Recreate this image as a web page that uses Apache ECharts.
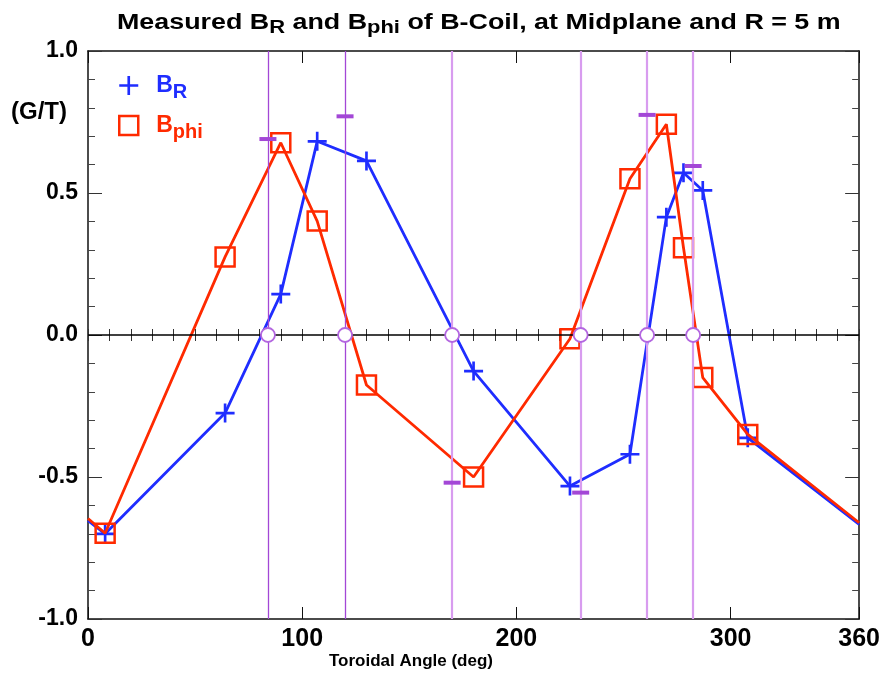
<!DOCTYPE html>
<html>
<head>
<meta charset="utf-8">
<script src="https://cdn.jsdelivr.net/npm/echarts@6/dist/echarts.min.js"></script>
<style>
  html, body { margin: 0; padding: 0; background: #fff; }
  #chart { width: 883px; height: 675px; }
</style>
</head>
<body>
<div id="chart"></div>
<script>
// measured points (toroidal angle in deg)
const angles = [8, 64, 90, 107, 130, 180, 225, 253, 270, 278, 287, 308];
const bR = [-0.70, -0.275, 0.144, 0.682, 0.613, -0.127, -0.532, -0.42, 0.415, 0.571, 0.509, -0.362];
const bPhi = [-0.698, 0.275, 0.677, 0.401, -0.176, -0.50, -0.013, 0.55, 0.742, 0.307, -0.15, -0.35];
// line ends at the plot edges (0 and 360 deg)
const edgeAngles = [0, 360];
const bREdge = [-0.654, -0.667];
const bPhiEdge = [-0.646, -0.661];
// coil crossing angles and the short purple marks
const crossAngles = [84, 120, 170, 230, 261, 282.5];
const markValues = [0.69, 0.77, -0.52, -0.555, 0.775, 0.595];
const xTicks = [0, 100, 200, 300, 360];

const blue = '#1f2dff';
const red = '#ff2a00';
const purple = '#a347d6';
const lavender = '#d89cef';
const font = "'Liberation Sans', Arial, sans-serif";
const plus = 'path://M8,0h2.6v8h8v2.6h-8v8h-2.6v-8h-8v-2.6h8z';

function withEdges(vals, edges) {
  const pts = angles.map((a, i) => [a, vals[i]]);
  pts.unshift({ value: [edgeAngles[0], edges[0]], symbol: 'none' });
  pts.push({ value: [edgeAngles[1], edges[1]], symbol: 'none' });
  return pts;
}

const chart = echarts.init(document.getElementById('chart'));

const baseX = {
  type: 'value', min: 0, max: 360, gridIndex: 0,
  splitLine: { show: false },
  axisLine: { show: true, onZero: false, lineStyle: { color: '#111', width: 1.5 } }
};
const baseY = {
  type: 'value', min: -1, max: 1, interval: 0.5,
  splitLine: { show: false },
  axisLine: { show: true, onZero: false, lineStyle: { color: '#111', width: 1.5 } },
  axisTick: { inside: true, length: 14, lineStyle: { color: '#333' } },
  minorTick: { show: true, splitNumber: 5, length: 7, lineStyle: { color: '#444' } }
};

const option = {
  animation: false,
  backgroundColor: '#fff',
  textStyle: { fontFamily: font },
  legend: {
    orient: 'vertical', left: 113, top: 69, itemGap: 12,
    itemWidth: 19, itemHeight: 19,
    selectedMode: false,
    data: [
      { name: 'BR', icon: plus, itemStyle: { color: blue, borderWidth: 0 } },
      { name: 'Bphi', icon: 'rect', itemStyle: { color: 'rgba(0,0,0,0)', borderColor: red, borderWidth: 2.5 } }
    ],
    formatter: name => name === 'BR' ? '{b1|B}{s1|R}' : '{b2|B}{s2|phi}',
    textStyle: {
      rich: {
        b1: { fontFamily: font, fontWeight: 'bold', fontSize: 23, color: blue, padding: [0, 0, 0, 13] },
        s1: { fontFamily: font, fontWeight: 'bold', fontSize: 20, color: blue, padding: [13, 0, 0, 0] },
        b2: { fontFamily: font, fontWeight: 'bold', fontSize: 23, color: red, padding: [0, 0, 0, 13] },
        s2: { fontFamily: font, fontWeight: 'bold', fontSize: 20, color: red, padding: [13, 0, 0, 0] }
      }
    }
  },
  grid: { left: 88, right: 23, top: 51, bottom: 56, containLabel: false },
  xAxis: [
    Object.assign({}, baseX, {
      position: 'bottom', interval: 100,
      axisTick: { inside: true, length: 12, lineStyle: { color: '#111' } },
      axisLabel: {
        margin: 8, color: '#000', fontFamily: font, fontWeight: 'bold', fontSize: 25,
        showMaxLabel: true,
        formatter: v => xTicks.includes(v) ? String(v) : ''
      }
    }),
    Object.assign({}, baseX, {
      position: 'bottom', interval: 10,
      axisLine: { show: false },
      axisTick: { inside: true, length: 6, lineStyle: { color: '#333' } },
      axisLabel: { show: false }
    }),
    Object.assign({}, baseX, {
      position: 'top', interval: 100,
      axisTick: { inside: true, length: 12, lineStyle: { color: '#111' } },
      axisLabel: { show: false }
    }),
    Object.assign({}, baseX, {
      position: 'top', interval: 10,
      axisLine: { show: false },
      axisTick: { inside: true, length: 6, lineStyle: { color: '#333' } },
      axisLabel: { show: false }
    })
  ],
  yAxis: [
    Object.assign({}, baseY, {
      position: 'left',
      axisLabel: {
        margin: 10, color: '#000', fontFamily: font, fontWeight: 'bold', fontSize: 23,
        formatter: v => v.toFixed(1)
      }
    }),
    Object.assign({}, baseY, {
      position: 'right',
      axisLabel: { show: false }
    })
  ],
  graphic: [
    {
      type: 'text', x: 117, y: 8, scaleX: 1.22,
      style: {
        text: 'Measured B{s|R} and B{s|phi} of B-Coil, at Midplane and R = 5 m',
        font: 'bold 22px ' + font, fill: '#000',
        rich: {
          s: { font: 'bold 18px ' + font, fill: '#000', padding: [11, 0, 0, 0] }
        }
      }
    },
    {
      type: 'text', left: 11, top: 100,
      style: { text: '(G/T)', font: 'bold 24px ' + font, fill: '#000' }
    },
    {
      type: 'text', left: 329, top: 653,
      style: { text: 'Toroidal Angle (deg)', font: 'bold 17px ' + font, fill: '#000' }
    }
  ],
  series: [
    {
      name: 'crossings', type: 'scatter', z: 1,
      data: [],
      markLine: {
        silent: true, symbol: 'none', label: { show: false },
        data: crossAngles.map((a, i) => ({
          xAxis: a,
          lineStyle: i < 2
            ? { color: purple, width: 1.3, type: 'solid' }
            : { color: lavender, width: 2.2, type: 'solid' }
        }))
          .concat([{ yAxis: 0, lineStyle: { color: '#000', width: 1.5, type: 'solid' } }])
      }
    },
    {
      name: 'BR', type: 'line', z: 3,
      data: withEdges(bR, bREdge),
      symbol: plus, symbolSize: 19,
      lineStyle: { color: blue, width: 2.8 },
      itemStyle: { color: blue, borderWidth: 0 }
    },
    {
      name: 'Bphi', type: 'line', z: 4,
      data: withEdges(bPhi, bPhiEdge),
      symbol: 'rect', symbolSize: 19,
      lineStyle: { color: red, width: 2.8 },
      itemStyle: { color: 'rgba(0,0,0,0)', borderColor: red, borderWidth: 2.5 }
    },
    {
      name: 'marks', type: 'scatter', z: 5,
      data: crossAngles.map((a, i) => [a, markValues[i]]),
      symbol: 'rect', symbolSize: [17, 4],
      itemStyle: { color: purple, opacity: 1 }
    },
    {
      name: 'zeros', type: 'scatter', z: 6,
      data: crossAngles.map(a => [a, 0]),
      symbol: 'circle', symbolSize: 14,
      itemStyle: { color: '#fff', borderColor: '#b366e0', borderWidth: 1.8, opacity: 1 }
    }
  ]
};

chart.setOption(option);
</script>
</body>
</html>
